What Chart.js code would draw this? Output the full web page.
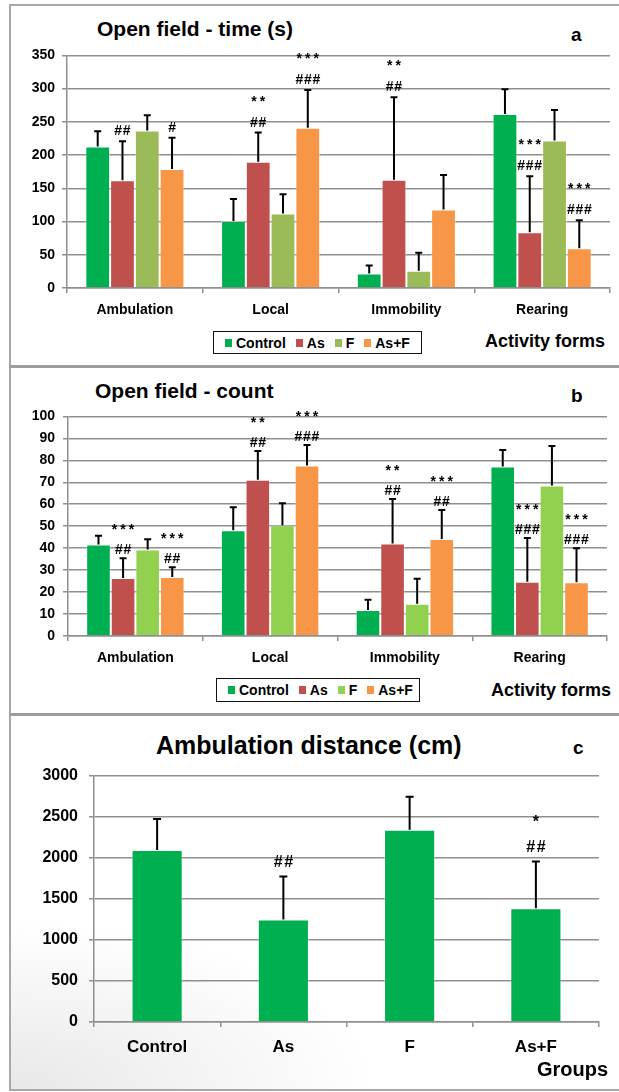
<!DOCTYPE html>
<html>
<head>
<meta charset="utf-8">
<script src="https://cdn.jsdelivr.net/npm/chart.js@4.4.1/dist/chart.umd.min.js"></script>
<style>
  html, body { margin: 0; padding: 0; background: #fff; }
  body { width: 619px; height: 1092px; position: relative; overflow: hidden;
         font-family: 'Liberation Sans', Arial, sans-serif; font-weight: bold; color: #000; }
  .rule { position: absolute; background: #9c9c9c; }
  .txt { position: absolute; white-space: nowrap; line-height: 1; transform: translateY(-50%); }
  .legend { position: absolute; border: 1.5px solid #111; box-sizing: border-box;
            display: flex; align-items: center; font-size: 14px; padding-left: 11px; }
  .legend .item { display: flex; align-items: center; margin-right: 10px; }
  .legend .item:last-child { margin-right: 0; }
  .legend .sq { display: inline-block; width: 7px; height: 8px; margin-right: 4px; }
  canvas { position: absolute; }
  .shade { position: absolute; left: 11px; top: 716px; width: 608px; height: 373px;
           background: radial-gradient(ellipse 60% 45% at 0% 100%, rgba(200,200,200,0.42), rgba(255,255,255,0)); }
</style>
</head>
<body>

<!-- frame -->
<div class="rule" style="left:9px;top:4px;width:610px;height:2px;background:#a8a8a8"></div>
<div class="rule" style="left:9px;top:4px;width:2px;height:1087px;background:#a8a8a8"></div>
<div class="rule" style="left:9px;top:365px;width:610px;height:3px"></div>
<div class="rule" style="left:9px;top:713px;width:610px;height:3px"></div>
<div class="rule" style="left:9px;top:1089px;width:610px;height:2px;background:#a8a8a8"></div>
<div class="shade"></div>

<!-- panel a -->
<div class="txt" style="left:97px;top:28px;font-size:21px">Open field - time (s)</div>
<div class="txt" style="left:571px;top:34px;font-size:19px">a</div>
<canvas id="chartTime" width="608" height="290" style="left:10px;top:40px;width:608px;height:290px"></canvas>
<div class="legend" id="legendTime" style="left:213px;top:331px;width:209px;height:23px"></div>
<div class="txt" style="left:485px;top:341px;font-size:18px">Activity forms</div>

<!-- panel b -->
<div class="txt" style="left:95px;top:390px;font-size:21px">Open field - count</div>
<div class="txt" style="left:571px;top:395px;font-size:19px">b</div>
<canvas id="chartCount" width="608" height="270" style="left:10px;top:400px;width:608px;height:270px"></canvas>
<div class="legend" id="legendCount" style="left:216px;top:678px;width:204px;height:24px"></div>
<div class="txt" style="left:491px;top:690px;font-size:18px">Activity forms</div>

<!-- panel c -->
<div class="txt" style="left:156px;top:745px;font-size:25px">Ambulation distance (cm)</div>
<div class="txt" style="left:573px;top:747px;font-size:19px">c</div>
<canvas id="chartDistance" width="608" height="310" style="left:10px;top:755px;width:608px;height:310px"></canvas>
<div class="txt" style="left:537px;top:1069px;font-size:20px">Groups</div>

<script>
// Categories
const activityForms = ['Ambulation', 'Local', 'Immobility', 'Rearing'];
const groups = ['Control', 'As', 'F', 'As+F'];

// Tick labels
const timeTicks = [0, 50, 100, 150, 200, 250, 300, 350];
const countTicks = [0, 10, 20, 30, 40, 50, 60, 70, 80, 90, 100];
const distanceTicks = [0, 500, 1000, 1500, 2000, 2500, 3000];

// Open field - time (s): means and SD per activity form
const timeControl = [213, 101, 22, 262];
const timeAs      = [162, 190, 163, 84];
const timeF       = [237, 112, 26, 222];
const timeAsF     = [179, 241, 118, 60];
const timeControlSD = [23, 33, 12, 37];
const timeAsSD      = [59, 44, 124, 84];
const timeFSD       = [23, 29, 27, 46];
const timeAsFSD     = [47, 57, 52, 42];

// Open field - count: means and SD per activity form
const countControl = [41.7, 48.2, 11.8, 77.2];
const countAs      = [26.4, 71.2, 42.1, 24.7];
const countF       = [39.4, 50.4, 14.7, 68.5];
const countAsF     = [26.9, 77.6, 44.2, 24.5];
const countControlSD = [3.9, 10.4, 4.7, 7.5];
const countAsSD      = [9.0, 13.0, 20.3, 19.9];
const countFSD       = [4.7, 10.0, 11.4, 18.0];
const countAsFSD     = [4.4, 9.4, 13.2, 15.5];

// Ambulation distance (cm): means and SD per group
const distanceMean = [2095, 1249, 2342, 1384];
const distanceSD   = [378, 523, 399, 571];

// Significance marks, listed top to bottom above each bar
const timeMarksAs   = [['##'], ['**', '##'], ['**', '##'], ['***', '###']];
const timeMarksAsF  = [['#'], ['***', '###'], [], ['***', '###']];
const countMarksAs  = [['***', '##'], ['**', '##'], ['**', '##'], ['***', '###']];
const countMarksAsF = [['***', '##'], ['***', '###'], ['***', '##'], ['***', '###']];
const distanceMarks = [[], ['##'], [], ['*', '##']];

// Colours
const cControl = '#00B050';
const cAs = '#C0504D';
const cFTime = '#9BBB59';
const cFCount = '#92D050';
const cAsF = '#F79646';
const gridGray = '#8f8f8f';
const FONT = "'Liberation Sans', Arial, sans-serif";

// Draws a mark string character by character with a fixed advance
function drawMark(ctx, text, cx, cy, o) {
  const n = text.length;
  const start = cx - (n - 1) * o.advance / 2;
  ctx.font = 'bold ' + o.markSize + 'px ' + FONT;
  ctx.textAlign = 'center';
  ctx.textBaseline = 'alphabetic';
  ctx.fillStyle = '#000';
  for (let i = 0; i < n; i++) {
    const ch = text[i];
    const base = ch === '*' ? cy + 0.58 * o.markSize : cy + 0.36 * o.markSize;
    ctx.fillText(ch, start + i * o.advance, base);
  }
}

// Error bars (upper half with cap) and significance marks
const errorBars = {
  id: 'errorBars',
  afterDatasetsDraw(chart, args, o) {
    const ctx = chart.ctx;
    const ys = chart.scales.y;
    chart.data.datasets.forEach((ds, di) => {
      const meta = chart.getDatasetMeta(di);
      meta.data.forEach((bar, i) => {
        const top = ys.getPixelForValue(ds.data[i] + ds.sd[i]);
        ctx.save();
        ctx.strokeStyle = '#000';
        ctx.lineWidth = o.lineWidth;
        ctx.beginPath();
        ctx.moveTo(bar.x, bar.y);
        ctx.lineTo(bar.x, top);
        ctx.moveTo(bar.x - o.cap, top);
        ctx.lineTo(bar.x + o.cap, top);
        ctx.stroke();
        const marks = ds.marks ? ds.marks[i] : [];
        let cy = top - o.markGap;
        for (let k = marks.length - 1; k >= 0; k--) {
          drawMark(ctx, marks[k], bar.x, cy, o);
          cy -= o.markStep;
        }
        ctx.restore();
      });
    });
  }
};

function dataset(label, data, sd, color, marks) {
  return {
    label, data, sd, marks,
    backgroundColor: color,
    borderColor: 'rgba(255,255,255,0.4)',
    borderWidth: 1,
    borderSkipped: 'bottom'
  };
}

function makeChart(id, labels, datasets, s) {
  return new Chart(document.getElementById(id), {
    type: 'bar',
    data: { labels, datasets },
    options: {
      responsive: false,
      animation: false,
      devicePixelRatio: 1,
      layout: { padding: { top: s.padTop, right: s.padRight, left: 0, bottom: 0 } },
      datasets: { bar: { categoryPercentage: s.catPct, barPercentage: s.barPct } },
      plugins: {
        legend: { display: false },
        tooltip: { enabled: false },
        errorBars: s.err
      },
      scales: {
        x: {
          offset: true,
          grid: { display: true, offset: true, drawOnChartArea: false, drawTicks: true,
                  tickLength: 5, color: gridGray, lineWidth: 1.5 },
          border: { color: gridGray, width: 1.5 },
          ticks: { color: '#000', padding: s.xPad, font: { family: FONT, weight: 'bold', size: s.xFont } },
          afterFit: (sc) => { sc.height = s.xHeight; }
        },
        y: {
          min: s.ticks[0],
          max: s.ticks[s.ticks.length - 1],
          afterBuildTicks: (sc) => { sc.ticks = s.ticks.map(v => ({ value: v })); },
          grid: { color: gridGray, lineWidth: 1.5, tickLength: 5, drawTicks: true },
          border: { color: gridGray, width: 1.5 },
          ticks: { color: '#000', padding: s.yPad, font: { family: FONT, weight: 'bold', size: s.yFont },
                   callback: (v) => String(v) },
          afterFit: (sc) => { sc.width = s.yWidth; }
        }
      }
    },
    plugins: [errorBars]
  });
}

// Panel a
makeChart('chartTime', activityForms, [
  dataset(groups[0], timeControl, timeControlSD, cControl, null),
  dataset(groups[1], timeAs, timeAsSD, cAs, timeMarksAs),
  dataset(groups[2], timeF, timeFSD, cFTime, null),
  dataset(groups[3], timeAsF, timeAsFSD, cAsF, timeMarksAsF)
], { padTop: 13, padRight: 8, catPct: 0.73, barPct: 1, xPad: 9, xFont: 14, xHeight: 42,
     ticks: timeTicks, yPad: 7, yFont: 14, yWidth: 57,
     err: { lineWidth: 2, cap: 3.5, markGap: 11, markStep: 24, markSize: 14, advance: 8.5 } });

// Panel b
makeChart('chartCount', activityForms, [
  dataset(groups[0], countControl, countControlSD, cControl, null),
  dataset(groups[1], countAs, countAsSD, cAs, countMarksAs),
  dataset(groups[2], countF, countFSD, cFCount, null),
  dataset(groups[3], countAsF, countAsFSD, cAsF, countMarksAsF)
], { padTop: 13, padRight: 11, catPct: 0.73, barPct: 1, xPad: 9, xFont: 14, xHeight: 34,
     ticks: countTicks, yPad: 8, yFont: 14, yWidth: 58,
     err: { lineWidth: 2, cap: 3.5, markGap: 9, markStep: 23, markSize: 14, advance: 8.5 } });

// Panel c
makeChart('chartDistance', groups, [
  dataset('Ambulation distance', distanceMean, distanceSD, cControl, distanceMarks)
], { padTop: 17, padRight: 19, catPct: 1, barPct: 0.405, xPad: 10, xFont: 17, xHeight: 43,
     ticks: distanceTicks, yPad: 11, yFont: 16, yWidth: 84,
     err: { lineWidth: 2, cap: 4, markGap: 15, markStep: 29, markSize: 16, advance: 10.5 } });

// HTML legends
function buildLegend(id, colors) {
  const box = document.getElementById(id);
  groups.forEach((g, i) => {
    const item = document.createElement('span');
    item.className = 'item';
    const sq = document.createElement('span');
    sq.className = 'sq';
    sq.style.background = colors[i];
    const t = document.createElement('span');
    t.textContent = g;
    item.appendChild(sq);
    item.appendChild(t);
    box.appendChild(item);
  });
}
buildLegend('legendTime', [cControl, cAs, cFTime, cAsF]);
buildLegend('legendCount', [cControl, cAs, cFCount, cAsF]);
</script>
</body>
</html>
